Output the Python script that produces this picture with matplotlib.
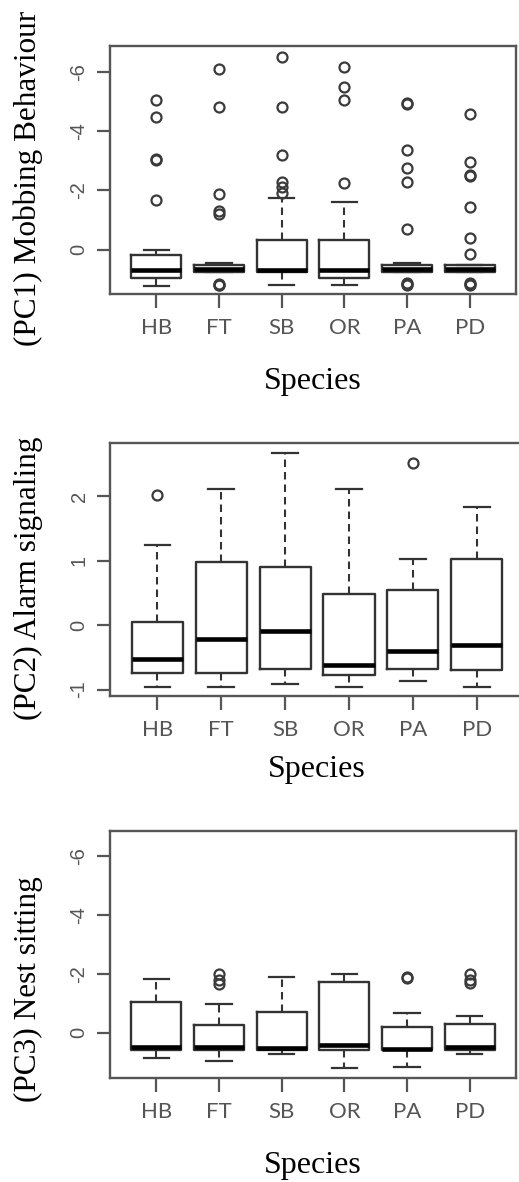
import matplotlib
matplotlib.use('Agg')
import matplotlib.pyplot as plt
import numpy as np

species = ['HB', 'FT', 'SB', 'OR', 'PA', 'PD']

# PC1 Mobbing Behaviour (axis drawn reversed, -6 at top)
pc1_whislo = [0.02, 0.44, -1.75, -1.61, 0.45, 0.53]
pc1_q1 = [0.19, 0.53, -0.31, -0.31, 0.53, 0.53]
pc1_med = [0.70, 0.64, 0.70, 0.68, 0.64, 0.64]
pc1_q3 = [0.95, 0.76, 0.76, 0.95, 0.76, 0.76]
pc1_whishi = [1.23, 0.76, 1.19, 1.21, 0.76, 0.76]
pc1_fliers = [
    [-5.05, -4.46, -3.06, -3.02, -1.66],
    [-6.11, -4.82, -1.89, -1.30, -1.20, 1.15, 1.18, 1.21],
    [-6.51, -4.82, -3.19, -2.29, -2.12, -1.91],
    [-6.17, -5.50, -5.05, -2.23],
    [-4.95, -4.91, -3.36, -2.74, -2.29, -0.71, 1.14, 1.17, 1.20],
    [-4.56, -2.94, -2.53, -2.49, -1.42, -0.40, 0.14, 1.14, 1.17, 1.20],
]

# PC2 Alarm signaling
pc2_whislo = [-0.955, -0.955, -0.913, -0.955, -0.87, -0.955]
pc2_q1 = [-0.75, -0.75, -0.685, -0.77, -0.685, -0.695]
pc2_med = [-0.52, -0.21, -0.09, -0.62, -0.40, -0.31]
pc2_q3 = [0.057, 0.98, 0.90, 0.49, 0.54, 1.03]
pc2_whishi = [1.24, 2.11, 2.67, 2.12, 1.03, 1.83]
pc2_fliers = [[2.03], [], [], [], [2.52], []]

# PC3 Nest sitting (axis drawn reversed)
pc3_whislo = [-1.84, -0.96, -1.89, -2.01, -0.68, -0.56]
pc3_q1 = [-1.04, -0.27, -0.70, -1.71, -0.21, -0.28]
pc3_med = [0.47, 0.50, 0.53, 0.43, 0.55, 0.47]
pc3_q3 = [0.60, 0.60, 0.60, 0.60, 0.60, 0.58]
pc3_whishi = [0.86, 0.97, 0.71, 1.20, 1.15, 0.71]
pc3_fliers = [
    [],
    [-2.01, -1.80, -1.67],
    [],
    [],
    [-1.91, -1.86],
    [-1.98, -1.80, -1.68],
]

W, H = 519, 1182
fig = plt.figure(figsize=(W / 100, H / 100), dpi=100)
fig.patch.set_facecolor('white')

grey = '#555555'
dark = '#333333'


def make_stats(lo, q1, med, q3, hi, fl):
    out = []
    for i in range(len(species)):
        out.append(dict(whislo=lo[i], q1=q1[i], med=med[i], q3=q3[i],
                        whishi=hi[i], fliers=fl[i], label=species[i]))
    return out


def panel(box, stats, ylim, yticks, ylabel, ylab_y, xlab_y):
    l, t, r, b = box
    ax = fig.add_axes([l / W, 1 - b / H, (r - l) / W, (b - t) / H])
    ax.bxp(stats, positions=range(1, 7), widths=0.8,
           boxprops=dict(color=dark, lw=1.7),
           medianprops=dict(color='black', lw=3.3, solid_capstyle='butt'),
           whiskerprops=dict(color=dark, lw=1.5, linestyle=(0, (3.6, 2.4))),
           capprops=dict(color=dark, lw=1.6), capwidths=0.4,
           flierprops=dict(marker='o', markersize=7.2, markerfacecolor='none',
                           markeredgecolor='#3a3a3a', markeredgewidth=1.6))
    ax.set_xlim(0.26, 6.74)
    ax.set_ylim(*ylim)
    for s in ax.spines.values():
        s.set_color(grey)
        s.set_linewidth(1.7)
    ax.set_yticks(yticks)
    ax.set_yticklabels([str(v) for v in yticks], rotation=90, va='center',
                       fontsize=14.5, color=grey, family='Liberation Sans')
    ax.set_xticks(range(1, 7))
    ax.set_xticklabels(species, fontsize=16, color=grey, family='Lato')
    ax.tick_params(axis='x', length=10, width=1.6, color=grey, pad=7)
    ax.tick_params(axis='y', length=9.4, width=1.6, color=grey, pad=6)
    ax.set_ylabel(ylabel, family='Liberation Serif', fontsize=22.5,
                  va='center', ha='center')
    ax.yaxis.set_label_coords((28 - l) / (r - l), (b - ylab_y) / (b - t))
    ax.set_xlabel('Species', family='Liberation Serif', fontsize=23,
                  va='center', ha='center')
    ax.xaxis.set_label_coords(0.5, (b - xlab_y) / (b - t))
    return ax


panel((110, 46, 516, 294),
      make_stats(pc1_whislo, pc1_q1, pc1_med, pc1_q3, pc1_whishi, pc1_fliers),
      (1.5, -6.87), [-6, -4, -2, 0], '(PC1) Mobbing Behaviour', 178, 381)

panel((110, 443, 524, 696),
      make_stats(pc2_whislo, pc2_q1, pc2_med, pc2_q3, pc2_whishi, pc2_fliers),
      (-1.10, 2.83), [-1, 0, 1, 2], '(PC2) Alarm signaling', 578, 770)

panel((110, 831, 516, 1078),
      make_stats(pc3_whislo, pc3_q1, pc3_med, pc3_q3, pc3_whishi, pc3_fliers),
      (1.54, -6.86), [-6, -4, -2, 0], '(PC3) Nest sitting', 989, 1166)

fig.savefig('out.png', dpi=100)
